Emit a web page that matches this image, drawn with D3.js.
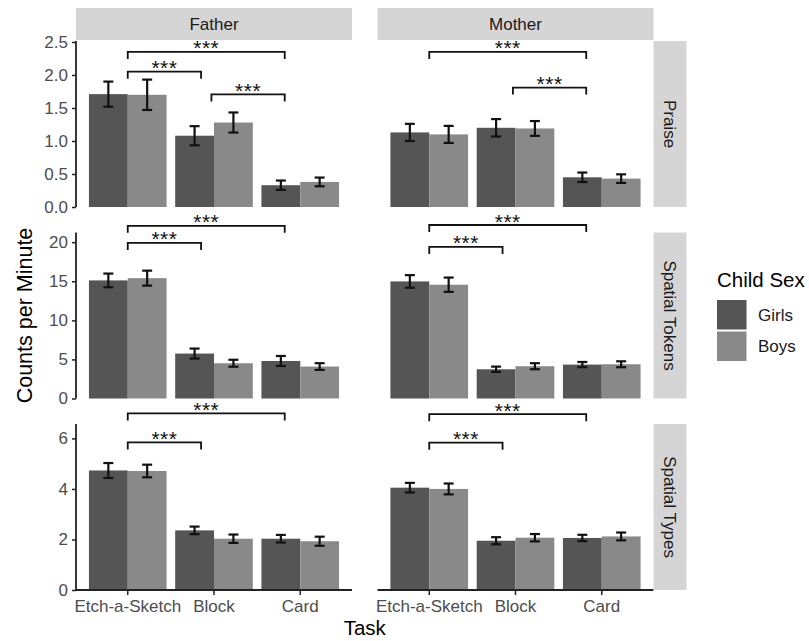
<!DOCTYPE html>
<html>
<head>
<meta charset="utf-8">
<script src="https://cdn.jsdelivr.net/npm/d3@7"></script>
<style>
  html, body { margin: 0; padding: 0; background: #fff; }
  svg { display: block; font-family: "Liberation Sans", Arial, Helvetica, sans-serif; }
</style>
</head>
<body>
<svg id="chart" width="809" height="641"></svg>
<script>
// ---------------- DATA ----------------
const tasks = ["Etch-a-Sketch", "Block", "Card"];
const parents = ["Father", "Mother"];
const measures = ["Praise", "Spatial Tokens", "Spatial Types"];
const sexes = ["Girls", "Boys"];

// values: first 3 = Father (Etch-a-Sketch, Block, Card), last 3 = Mother
const praiseGirls    = [1.71, 1.08, 0.33,   1.13, 1.20, 0.45];
const praiseBoys     = [1.70, 1.28, 0.38,   1.10, 1.19, 0.43];
const praiseGirlsErr = [0.19, 0.145, 0.071, 0.13, 0.132, 0.072];
const praiseBoysErr  = [0.23, 0.152, 0.066, 0.129, 0.112, 0.065];

const tokensGirls    = [15.11, 5.75, 4.80,  14.98, 3.74, 4.34];
const tokensBoys     = [15.40, 4.51, 4.09,  14.56, 4.13, 4.38];
const tokensGirlsErr = [0.875, 0.64, 0.64,  0.805, 0.34, 0.335];
const tokensBoysErr  = [0.96, 0.445, 0.43,  0.915, 0.385, 0.38];

const typesGirls     = [4.73, 2.36, 2.03,   4.05, 1.95, 2.06];
const typesBoys      = [4.71, 2.03, 1.93,   4.00, 2.07, 2.12];
const typesGirlsErr  = [0.295, 0.15, 0.15,  0.19, 0.14, 0.125];
const typesBoysErr   = [0.25, 0.165, 0.18,  0.215, 0.145, 0.155];

// y-axis limits and tick labels per row
const yLimits = [2.515, 21.24, 6.57];
const praiseTicks = ["0.0", "0.5", "1.0", "1.5", "2.0", "2.5"];
const tokensTicks = ["0", "5", "10", "15", "20"];
const typesTicks  = ["0", "2", "4", "6"];

// significance brackets: measure index, parent index, xmin, xmax (task positions, 1-based), y (data units), label
const brMeasure = [0, 0, 0, 0, 0,   1, 1, 1, 1,   2, 2, 2, 2];
const brParent  = [0, 0, 0, 1, 1,   0, 0, 1, 1,   0, 0, 1, 1];
const brXmin    = [1, 1, 1.97, 1, 1.97,   1, 1, 1, 1,   1, 1, 1, 1];
const brXmax    = [2.82, 1.85, 2.82, 2.82, 2.82,   2.82, 1.85, 2.82, 1.85,   2.82, 1.85, 2.82, 1.85];
const brY       = [2.35, 2.05, 1.705, 2.35, 1.81,   22.1, 19.9, 22.2, 19.4,   6.99, 5.84, 6.96, 5.83];
const brLabel   = ["***", "***", "***", "***", "***", "***", "***", "***", "***", "***", "***", "***", "***"];

// ---------------- BUILD ----------------
const seriesGirls = [praiseGirls, tokensGirls, typesGirls];
const seriesBoys  = [praiseBoys, tokensBoys, typesBoys];
const errGirls    = [praiseGirlsErr, tokensGirlsErr, typesGirlsErr];
const errBoys     = [praiseBoysErr, tokensBoysErr, typesBoysErr];
const tickSets    = [praiseTicks, tokensTicks, typesTicks];

const rows = [];
measures.forEach((m, mi) => {
  parents.forEach((p, pi) => {
    tasks.forEach((t, ti) => {
      rows.push({ measure: m, mi, parent: p, pi, task: t, sex: "Girls",
                  value: seriesGirls[mi][pi * 3 + ti], err: errGirls[mi][pi * 3 + ti] });
      rows.push({ measure: m, mi, parent: p, pi, task: t, sex: "Boys",
                  value: seriesBoys[mi][pi * 3 + ti], err: errBoys[mi][pi * 3 + ti] });
    });
  });
});

const colors = { Girls: "#555555", Boys: "#898989" };
const stripFill = "#d5d5d5";
const axisCol = "#222222";
const tickTextCol = "#4d4d4d";
const FONT = 17;

const colLeft = [76, 377.5];
const panelW = 276;
const rowTop = [41, 232.5, 424];
const panelH = 166;

const svg = d3.select("#chart");

const x = d3.scaleBand().domain(tasks).range([0, panelW]).paddingInner(0.1).paddingOuter(0.15);
const step = x.step();
const xCenter = t => x(t) + x.bandwidth() / 2;
const xUnit = u => xCenter(tasks[0]) + (u - 1) * step;

const yScales = yLimits.map(lim => d3.scaleLinear().domain([0, lim]).range([panelH, 0]));

measures.forEach((m, mi) => {
  const y = yScales[mi];
  parents.forEach((p, pi) => {
    const g = svg.append("g").attr("transform", `translate(${colLeft[pi]},${rowTop[mi]})`);
    const data = rows.filter(d => d.mi === mi && d.pi === pi);

    // bars
    g.selectAll("rect.bar").data(data).enter().append("rect")
      .attr("class", "bar")
      .attr("x", d => x(d.task) + (d.sex === "Girls" ? 0 : x.bandwidth() / 2))
      .attr("width", x.bandwidth() / 2)
      .attr("y", d => y(d.value))
      .attr("height", d => y(0) - y(d.value))
      .attr("fill", d => colors[d.sex]);

    // error bars
    const cap = 5;
    const eb = g.selectAll("g.eb").data(data).enter().append("g").attr("class", "eb")
      .attr("stroke", "#111").attr("stroke-width", 2.2).attr("fill", "none");
    const ex = d => x(d.task) + (d.sex === "Girls" ? x.bandwidth() / 4 : 3 * x.bandwidth() / 4);
    eb.append("line").attr("x1", ex).attr("x2", ex)
      .attr("y1", d => y(d.value + d.err)).attr("y2", d => y(d.value - d.err));
    eb.append("line").attr("x1", d => ex(d) - cap).attr("x2", d => ex(d) + cap)
      .attr("y1", d => y(d.value + d.err)).attr("y2", d => y(d.value + d.err));
    eb.append("line").attr("x1", d => ex(d) - cap).attr("x2", d => ex(d) + cap)
      .attr("y1", d => y(d.value - d.err)).attr("y2", d => y(d.value - d.err));

    // significance brackets
    const tip = 7;
    brY.forEach((by, bi) => {
      if (brMeasure[bi] !== mi || brParent[bi] !== pi) return;
      const x1 = xUnit(brXmin[bi]), x2 = xUnit(brXmax[bi]), yy = y(by);
      g.append("path")
        .attr("d", `M${x1},${yy + tip}V${yy}H${x2}V${yy + tip}`)
        .attr("fill", "none").attr("stroke", "#111").attr("stroke-width", 1.8);
      g.append("text").attr("x", (x1 + x2) / 2).attr("y", yy + 3.5)
        .attr("text-anchor", "middle").attr("font-size", 21).attr("fill", "#111")
        .attr("letter-spacing", 0.5)
        .text(brLabel[bi]);
    });

    // y axis only in left column
    if (pi === 0) {
      const tv = tickSets[mi].map(Number);
      const ax = d3.axisLeft(y).tickValues(tv).tickSize(4).tickPadding(4)
        .tickFormat((d, i) => tickSets[mi][i]);
      const ag = g.append("g").call(ax);
      ag.select(".domain").attr("d", `M0,0V${panelH}`).attr("stroke", axisCol).attr("stroke-width", 1.8);
      ag.selectAll(".tick line").attr("stroke", axisCol).attr("stroke-width", 1.5);
      ag.selectAll(".tick text").attr("font-size", FONT).attr("fill", tickTextCol)
        .attr("font-family", "Liberation Sans, Arial, sans-serif");
    }

    // x axis only in bottom row
    if (mi === measures.length - 1) {
      const axb = d3.axisBottom(x).tickSize(5).tickPadding(5);
      const bg = g.append("g").attr("transform", `translate(0,${panelH})`).call(axb);
      bg.select(".domain").attr("d", `M0,0H${panelW}`).attr("stroke", axisCol).attr("stroke-width", 1.8);
      bg.selectAll(".tick line").attr("stroke", axisCol).attr("stroke-width", 1.5);
      bg.selectAll(".tick text").attr("font-size", FONT).attr("fill", tickTextCol)
        .attr("font-family", "Liberation Sans, Arial, sans-serif");
    }
  });

  // right strip
  const sx = colLeft[1] + panelW;
  svg.append("rect").attr("x", sx).attr("y", rowTop[mi]).attr("width", 33).attr("height", panelH)
    .attr("fill", stripFill);
  const cy = rowTop[mi] + panelH / 2;
  svg.append("text").attr("transform", `translate(${sx + 16.5},${cy}) rotate(90)`)
    .attr("text-anchor", "middle").attr("dy", "0.35em").attr("font-size", FONT).attr("fill", "#1a1a1a")
    .text(m);
});

// top strips
parents.forEach((p, pi) => {
  svg.append("rect").attr("x", colLeft[pi]).attr("y", 8).attr("width", panelW).attr("height", 32)
    .attr("fill", stripFill);
  svg.append("text").attr("x", colLeft[pi] + panelW / 2).attr("y", 24).attr("dy", "0.35em")
    .attr("text-anchor", "middle").attr("font-size", FONT).attr("fill", "#1a1a1a").text(p);
});

// axis titles
svg.append("text").attr("x", (colLeft[0] + colLeft[1] + panelW) / 2).attr("y", 635)
  .attr("text-anchor", "middle").attr("font-size", 20.5).attr("fill", "#000").text("Task");
svg.append("text").attr("transform", `translate(32,${(rowTop[0] + rowTop[2] + panelH) / 2}) rotate(-90)`)
  .attr("text-anchor", "middle").attr("font-size", 21.5).attr("fill", "#000").text("Counts per Minute");

// legend
const lg = svg.append("g").attr("transform", "translate(717,0)");
lg.append("text").attr("x", 0).attr("y", 287).attr("font-size", 20.5).attr("fill", "#000").text("Child Sex");
sexes.forEach((s, i) => {
  lg.append("rect").attr("x", 0).attr("y", 300 + i * 31.5).attr("width", 29.5).attr("height", 29.5)
    .attr("fill", colors[s]);
  lg.append("text").attr("x", 41).attr("y", 300 + i * 31.5 + 15).attr("dy", "0.35em")
    .attr("font-size", FONT).attr("fill", "#1a1a1a").text(s);
});
</script>
</body>
</html>
